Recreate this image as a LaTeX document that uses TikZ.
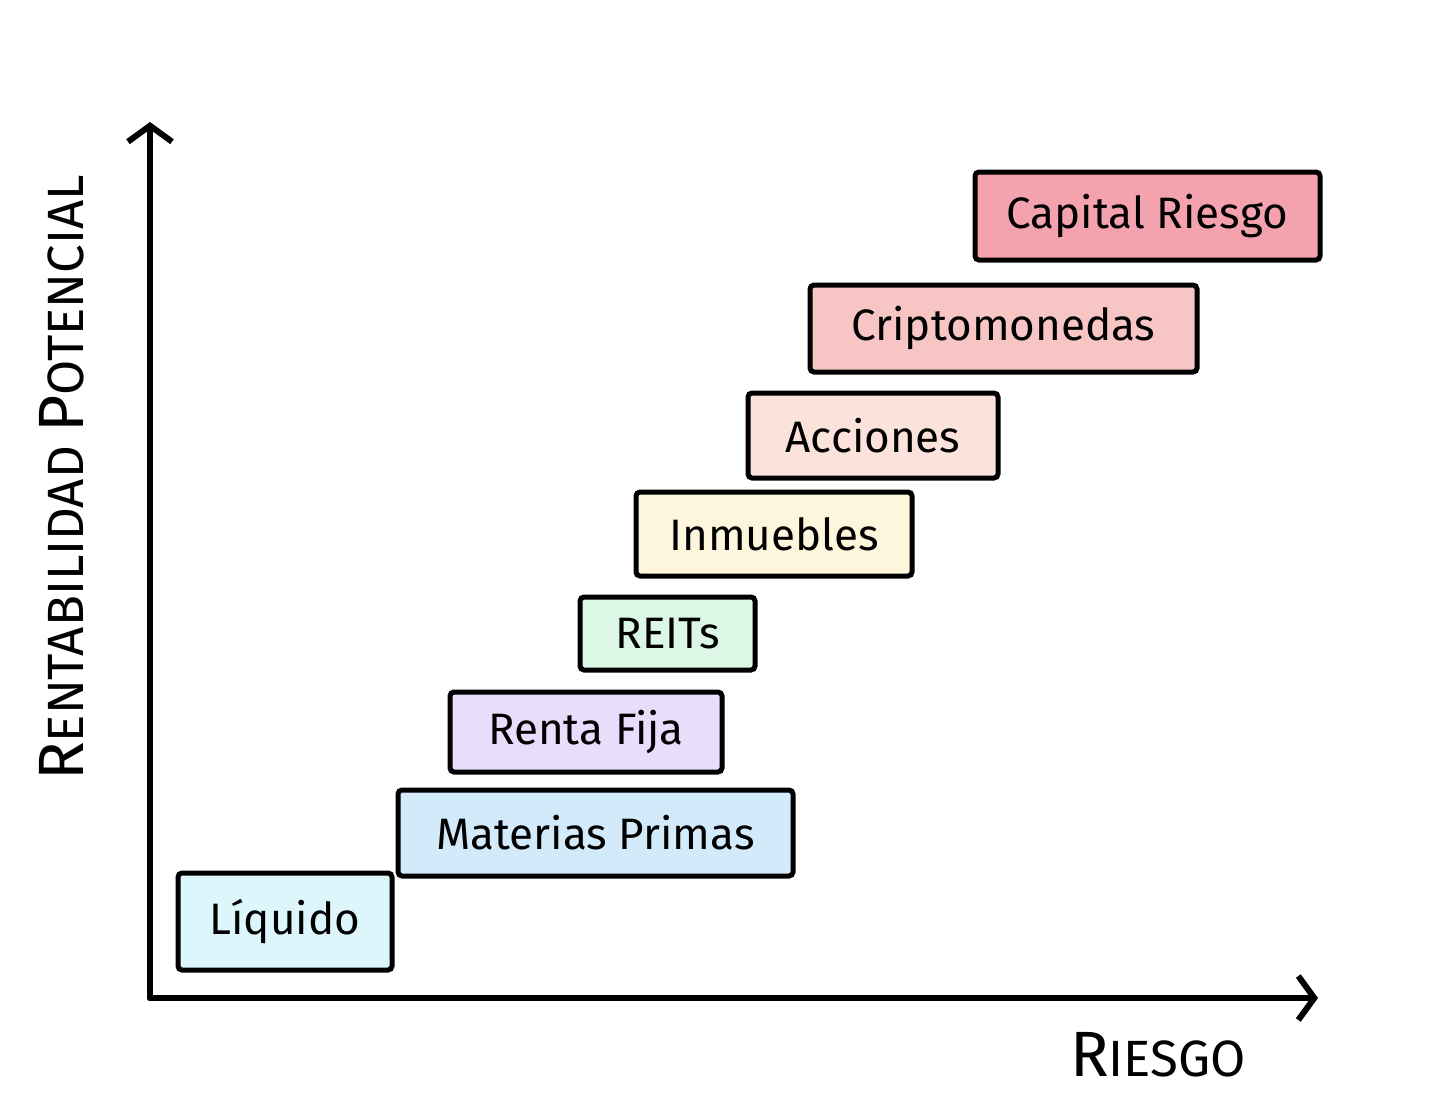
\documentclass[tikz,border=0pt]{standalone}
\usepackage{fontspec}
\setmainfont{Fira Sans}
\usetikzlibrary{arrows.meta}
\definecolor{c1}{HTML}{F4A3AE}
\definecolor{c2}{HTML}{F8C5C5}
\definecolor{c3}{HTML}{FBE2DA}
\definecolor{c4}{HTML}{FDF6DC}
\definecolor{c5}{HTML}{DDF7E6}
\definecolor{c6}{HTML}{E8DDFB}
\definecolor{c7}{HTML}{D3EAFB}
\definecolor{c8}{HTML}{DDF6FB}
\begin{document}
\begin{tikzpicture}[x=1pt,y=-1pt,
  every node/.style={font=\fontsize{44}{50}\selectfont},
  bx/.style={draw=black,line width=5pt,rounded corners=4pt,inner sep=0pt},
  ax/.style={line width=6pt,line cap=round,-{Straight Barb[length=16pt,width=44pt,line width=6pt]}}]
\useasboundingbox (0,0) rectangle (1456,1112);
\newcommand\bxx[6]{\node[bx,fill=#5,minimum width=#3-#1,minimum height=#4-#2] (#6) at ({(#1+#3)/2},{(#2+#4)/2}) {};}
\bxx{975}{172}{1320}{260}{c1}{b1}\node at (b1) {Capital Riesgo};
\bxx{810}{285}{1197}{372}{c2}{b2}\node at (b2) {Criptomonedas};
\bxx{748}{393}{998}{478}{c3}{b3}\node at (b3) {Acciones};
\bxx{636}{492}{912}{576}{c4}{b4}\node at (b4) {Inmuebles};
\bxx{580}{597}{755}{670}{c5}{b5}\node at (b5) {REITs};
\bxx{450}{692}{722}{772}{c6}{b6}\node at (b6) {Renta Fija};
\bxx{398}{790}{793}{876}{c7}{b7}\node at (b7) {Materias Primas};
\bxx{178}{873}{392}{970}{c8}{b8}\node at (b8) {Líquido};
\coordinate (o) at (150,998);
\coordinate (yt) at (150,122);
\coordinate (xe) at (1318,998);
\draw[ax] (o) -- (yt);
\draw[ax] (o) -- (xe);
\node (rx) at (1158,1055) {\fontsize{64}{64}\selectfont R\fontsize{51}{51}\selectfont IESGO};
\node[rotate=90] (ry) at (62,478) {\fontsize{64}{64}\selectfont R\fontsize{51}{51}\selectfont ENTABILIDAD \fontsize{64}{64}\selectfont P\fontsize{51}{51}\selectfont OTENCIAL};
\end{tikzpicture}
\end{document}
